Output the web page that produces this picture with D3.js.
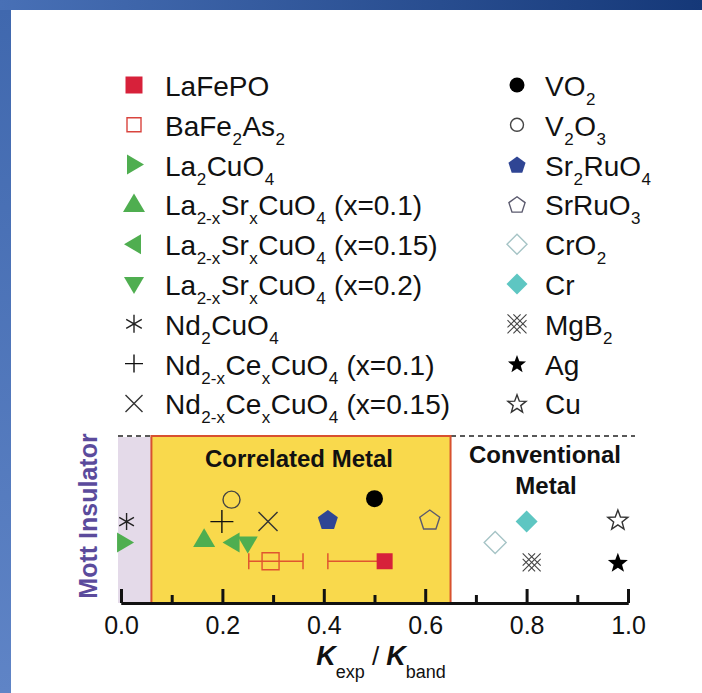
<!DOCTYPE html>
<html>
<head>
<meta charset="utf-8">
<script src="https://cdn.jsdelivr.net/npm/d3@7"></script>
<style>
  html, body { margin: 0; padding: 0; background: #fff; }
  svg { display: block; }
  text { font-family: "Liberation Sans", Arial, Helvetica, sans-serif; fill: #111; }
</style>
</head>
<body>
<svg id="chart" width="702" height="693"></svg>
<script>
// ---- data ----
// legend order: left column first, then right column
var materials = [
  "LaFePO", "BaFe_{2}As_{2}", "La_{2}CuO_{4}",
  "La_{2-x}Sr_{x}CuO_{4} (x=0.1)", "La_{2-x}Sr_{x}CuO_{4} (x=0.15)", "La_{2-x}Sr_{x}CuO_{4} (x=0.2)",
  "Nd_{2}CuO_{4}", "Nd_{2-x}Ce_{x}CuO_{4} (x=0.1)", "Nd_{2-x}Ce_{x}CuO_{4} (x=0.15)",
  "VO_{2}", "V_{2}O_{3}", "Sr_{2}RuO_{4}", "SrRuO_{3}", "CrO_{2}", "Cr", "MgB_{2}", "Ag", "Cu"
];
// K_exp / K_band
var kRatio = [0.52, 0.295, 0.006, 0.164, 0.22, 0.25, 0.011, 0.199, 0.29,
              0.50, 0.218, 0.408, 0.609, 0.738, 0.80, 0.81, 0.98, 0.98];
// vertical row (arbitrary units, only used to separate the points)
var rowLevel = [2, 2, 2.9, 3.05, 2.9, 2.85, 3.9, 3.9, 3.9,
                5, 4.95, 4, 4, 2.9, 3.9, 1.95, 1.95, 4];
// error bars
var errMaterials = ["LaFePO", "BaFe_{2}As_{2}"];
var errLow = [0.408, 0.252];
var errHigh = [0.52, 0.359];

var xTicks = [0, 0.2, 0.4, 0.6, 0.8, 1.0];
var xMinorTicks = [0.1, 0.3, 0.5, 0.7, 0.9];
var regionBounds = [0, 0.06, 0.65];

// ---- styles ----
var red = "#d7213a", errColor = "#e0552f", green = "#4fae50", navy = "#2f4594", teal = "#5ec6c2";
var markerKind = ["square", "square", "triRight", "triUp", "triLeft", "triDown", "asterisk", "plus", "cross",
                  "circle", "circle", "pentagon", "pentagon", "diamond", "diamond", "hatch", "star", "star"];
var markerFill = [red, "none", green, green, green, green, "none", "none", "none",
                  "#000", "none", navy, "none", "none", teal, "none", "#000", "none"];
var markerStroke = [null, "#d9443e", null, null, null, null, "#222", "#111", "#333",
                    null, "#444", null, "#5b5a6e", "#a6c4c6", null, "#444", null, "#333"];
var plotSize = [8, 8.5, 10, 11, 10, 10, 8.5, 11.5, 9.5, 8.5, 8.5, 10.5, 10.5, 11, 11, 9, 10.5, 10.5];
var legendSize = [8.5, 7, 10, 11, 10, 10, 9, 9, 8.5, 7.5, 6.5, 9, 8.5, 10, 10.5, 9.5, 9.5, 9.5];

var svg = d3.select("#chart");

// ---- frame ----
var defs = svg.append("defs");
var gTop = defs.append("linearGradient").attr("id", "gTop");
gTop.append("stop").attr("offset", "0%").attr("stop-color", "#4870b6");
gTop.append("stop").attr("offset", "100%").attr("stop-color", "#153878");
var gLeft = defs.append("linearGradient").attr("id", "gLeft")
  .attr("x1", 0).attr("y1", 0).attr("x2", 0).attr("y2", 1);
gLeft.append("stop").attr("offset", "0%").attr("stop-color", "#4068ae");
gLeft.append("stop").attr("offset", "100%").attr("stop-color", "#5f84c6");

svg.append("rect").attr("width", 702).attr("height", 693).attr("fill", "url(#gTop)");
svg.append("rect").attr("y", 10).attr("width", 11).attr("height", 683).attr("fill", "url(#gLeft)");
svg.append("rect").attr("x", 11).attr("y", 10).attr("width", 691).attr("height", 683).attr("fill", "#fff");

// ---- scales ----
var x = d3.scaleLinear().domain([0, 1]).range([121, 628]);
var y = d3.scaleLinear().domain([0, 8]).range([603, 436]);

// ---- marker shapes ----
function shape(kind, r) {
  var p = d3.path(), i, a;
  function poly(pts) {
    pts.forEach(function(q, k) { if (k === 0) p.moveTo(q[0], q[1]); else p.lineTo(q[0], q[1]); });
    p.closePath();
  }
  function rot(pts, ang) {
    var c = Math.cos(ang), s = Math.sin(ang);
    return pts.map(function(q) { return [q[0] * c - q[1] * s, q[0] * s + q[1] * c]; });
  }
  var tri = [[0, -r], [r * 1.0, r * 0.7], [-r * 1.0, r * 0.7]];
  switch (kind) {
    case "square": poly([[-r, -r], [r, -r], [r, r], [-r, r]]); break;
    case "circle": p.arc(0, 0, r, 0, 2 * Math.PI); break;
    case "triUp": poly(tri); break;
    case "triRight": poly(rot(tri, Math.PI / 2)); break;
    case "triDown": poly(rot(tri, Math.PI)); break;
    case "triLeft": poly(rot(tri, -Math.PI / 2)); break;
    case "pentagon":
      var pts = [];
      for (i = 0; i < 5; i++) { a = -Math.PI / 2 + i * 2 * Math.PI / 5; pts.push([r * Math.cos(a), r * Math.sin(a) + r * 0.1]); }
      poly(pts); break;
    case "diamond": poly([[0, -r], [r, 0], [0, r], [-r, 0]]); break;
    case "star":
      var sp = [];
      for (i = 0; i < 10; i++) {
        a = -Math.PI / 2 + i * Math.PI / 5;
        var rr = i % 2 ? r * 0.42 : r;
        sp.push([rr * Math.cos(a), rr * Math.sin(a) + r * 0.1]);
      }
      poly(sp); break;
    case "plus":
      p.moveTo(-r, 0); p.lineTo(r, 0); p.moveTo(0, -r); p.lineTo(0, r); break;
    case "cross":
      p.moveTo(-r, -r); p.lineTo(r, r); p.moveTo(-r, r); p.lineTo(r, -r); break;
    case "asterisk":
      for (i = 0; i < 3; i++) {
        a = Math.PI / 2 + i * Math.PI / 3;
        p.moveTo(r * Math.cos(a), r * Math.sin(a)); p.lineTo(-r * Math.cos(a), -r * Math.sin(a));
      }
      break;
    case "hatch":
      [-0.62 * r, 0, 0.62 * r].forEach(function(c) {
        var x0 = Math.max(-r, -r - c), x1 = Math.min(r, r - c);
        p.moveTo(x0, x0 + c); p.lineTo(x1, x1 + c);
        p.moveTo(x0, -(x0 + c)); p.lineTo(x1, -(x1 + c));
      });
      break;
  }
  return p.toString();
}

function drawMarker(g, i, r) {
  var filled = markerFill[i] !== "none";
  g.append("path")
    .attr("d", shape(markerKind[i], r))
    .attr("fill", markerFill[i])
    .attr("stroke", filled ? "none" : markerStroke[i])
    .attr("stroke-width", markerKind[i] === "hatch" ? 1.1 : 1.4)
    .attr("stroke-linejoin", "miter");
}

// text with _{sub} parts
function richText(t, str, size, subSize, shift) {
  var parts = str.split(/(_\{[^}]*\})/).filter(function(s) { return s.length; });
  var low = false;
  parts.forEach(function(s) {
    if (s.charAt(0) === "_") {
      t.append("tspan").attr("font-size", subSize).attr("dy", shift).attr("dx", 0.5).text(s.slice(2, -1));
      low = true;
    } else {
      var ts = t.append("tspan").attr("font-size", size).text(s);
      if (low) { ts.attr("dy", -shift).attr("dx", 0.5); low = false; }
    }
  });
}

// ---- legend ----
var legend = svg.append("g");
materials.forEach(function(m, i) {
  var col = i < 9 ? 0 : 1;
  var ry = 85 + (i % 9) * 39.8;
  var mx = col ? 517 : 134, tx = col ? 545 : 165;
  var g = legend.append("g").attr("transform", "translate(" + mx + "," + ry + ")");
  drawMarker(g, i, legendSize[i]);
  var t = legend.append("text").attr("x", tx).attr("y", ry + 11);
  richText(t, m, 28, 17, 9);
});

// ---- plot regions ----
var plot = svg.append("g");

plot.append("line")
  .attr("x1", x(0) - 3).attr("x2", x(1) + 7)
  .attr("y1", y(8)).attr("y2", y(8))
  .attr("stroke", "#222").attr("stroke-width", 1.5).attr("stroke-dasharray", "5,4");

plot.append("rect")
  .attr("x", x(regionBounds[0]) - 3).attr("y", y(8) + 1)
  .attr("width", x(regionBounds[1]) - x(regionBounds[0]) + 3).attr("height", y(0) - y(8) - 1)
  .attr("fill", "#e4dae9");

plot.append("rect")
  .attr("x", x(regionBounds[1])).attr("y", y(8))
  .attr("width", x(regionBounds[2]) - x(regionBounds[1])).attr("height", y(0) - y(8))
  .attr("fill", "#f9d94c").attr("stroke", "#d8512f").attr("stroke-width", 2);

plot.append("text")
  .attr("x", 299).attr("y", 467)
  .attr("text-anchor", "middle").attr("font-size", 24).attr("font-weight", "bold")
  .text("Correlated Metal");
plot.append("text")
  .attr("x", 545).attr("y", 463)
  .attr("text-anchor", "middle").attr("font-size", 24).attr("font-weight", "bold")
  .text("Conventional");
plot.append("text")
  .attr("x", 546).attr("y", 494)
  .attr("text-anchor", "middle").attr("font-size", 24).attr("font-weight", "bold")
  .text("Metal");

plot.append("text")
  .attr("transform", "translate(97,516) rotate(-90)")
  .attr("text-anchor", "middle").attr("font-size", 25).attr("font-weight", "bold")
  .style("fill", "#5b4b9c")
  .text("Mott Insulator");

// ---- error bars ----
errMaterials.forEach(function(m, k) {
  var i = materials.indexOf(m);
  var cy = y(rowLevel[i]);
  var eb = plot.append("g").attr("stroke", errColor).attr("stroke-width", 1.5);
  eb.append("line").attr("x1", x(errLow[k])).attr("x2", x(errHigh[k])).attr("y1", cy).attr("y2", cy);
  [errLow[k], errHigh[k]].forEach(function(v) {
    if (v === kRatio[i]) return;
    eb.append("line").attr("x1", x(v)).attr("x2", x(v)).attr("y1", cy - 8).attr("y2", cy + 8);
  });
});

// ---- points ----
materials.forEach(function(m, i) {
  var g = plot.append("g")
    .attr("transform", "translate(" + x(kRatio[i]) + "," + y(rowLevel[i]) + ")");
  var stroke = markerStroke[i];
  if (m === "BaFe_{2}As_{2}") { markerStroke[i] = errColor; }
  drawMarker(g, i, plotSize[i]);
  markerStroke[i] = stroke;
});

// ---- axis ----
var axis = d3.axisBottom(x).tickValues(xTicks).tickFormat(d3.format(".1f"))
  .tickSizeInner(-14).tickSizeOuter(0).tickPadding(13);
var minor = d3.axisBottom(x).tickValues(xMinorTicks).tickFormat("")
  .tickSizeInner(-8).tickSizeOuter(0);

var ga = svg.append("g").attr("transform", "translate(0," + y(0) + ")").call(axis);
var gm = svg.append("g").attr("transform", "translate(0," + y(0) + ")").call(minor);
[ga, gm].forEach(function(g) {
  g.select(".domain").attr("stroke", "#111").attr("stroke-width", 3);
  g.selectAll(".tick line").attr("stroke", "#111").attr("stroke-width", 3);
});
ga.selectAll(".tick text")
  .attr("font-size", 25).attr("font-family", "Liberation Sans, Arial, sans-serif")
  .style("fill", "#111");

// axis title: K_exp / K_band
var title = svg.append("text").attr("x", 381).attr("y", 665).attr("text-anchor", "middle");
title.append("tspan").attr("font-size", 27).attr("font-weight", "bold").attr("font-style", "italic").text("K");
title.append("tspan").attr("font-size", 18).attr("dy", 13).text("exp");
title.append("tspan").attr("font-size", 26).attr("dy", -13).text(" / ");
title.append("tspan").attr("font-size", 27).attr("font-weight", "bold").attr("font-style", "italic").text("K");
title.append("tspan").attr("font-size", 18).attr("dy", 13).text("band");
</script>
</body>
</html>
